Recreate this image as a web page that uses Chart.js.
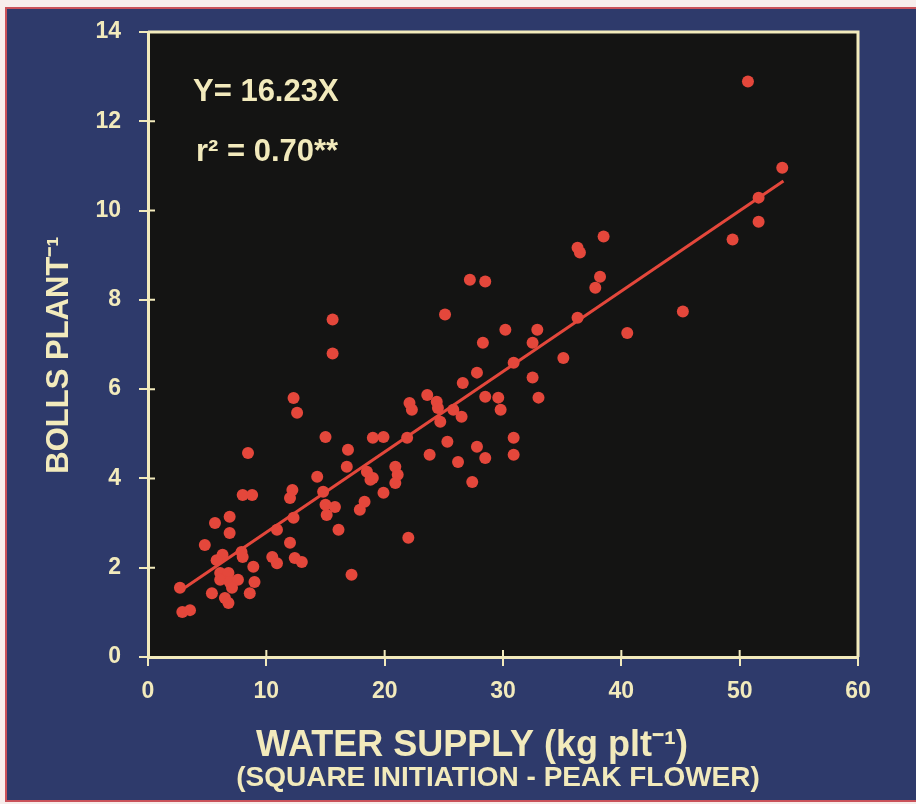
<!DOCTYPE html>
<html>
<head>
<meta charset="utf-8">
<script src="https://cdn.jsdelivr.net/npm/chart.js@4"></script>
<style>
    html, body { margin: 0; padding: 0; background: #f7eeec; }
    #frame {
        position: absolute; left: 5px; top: 7px; width: 911px; height: 791px;
        background: #2e3a6b; border-top: 2px solid #c9525a; border-left: 2px solid #c9525a;
        border-bottom: 2px solid #c9525a;
    }
    #chart { position: absolute; left: 0; top: 0; }
</style>
</head>
<body>
<div id="frame"></div>
<canvas id="chart" width="916" height="804"></canvas>
<script>
// values
const waterSupply = [
    12.3, 12.6, 8.45, 14.3, 8.0, 8.8, 12.2, 12.0, 6.9, 5.66, 6.9, 4.8, 10.9, 12.3, 12.0,
    6.3, 5.8, 7.9, 8.0, 10.5, 10.9, 12.4, 13.0, 8.9, 6.1, 6.8, 6.1, 6.9, 7.6, 9.0,
    2.7, 7.1, 5.4, 8.6, 6.5, 6.8, 2.9, 3.55,
    15.6, 25.1, 15.6, 26.6, 27.8, 23.6, 24.4, 24.5, 22.1, 22.3, 25.8, 26.5, 24.7,
    15.0, 19.0, 19.9, 21.9, 16.9, 25.3, 27.8, 23.8, 26.2, 16.8, 18.5, 18.8, 19.0,
    20.9, 21.1, 20.9, 27.4, 14.8, 19.9, 15.0, 15.8, 15.1, 18.3, 17.9, 16.1, 22.0, 17.2,
    38.5, 36.3, 36.5, 38.2, 37.8, 28.5, 27.2, 36.3, 40.5, 30.2, 32.9, 28.3, 32.5,
    35.1, 30.9, 32.5, 33.0, 28.5, 29.6, 29.8, 30.9, 28.5, 30.9,
    50.7, 53.6, 51.6, 51.6, 49.4, 45.2
];
const bollsPerPlant = [
    5.80, 5.47, 4.57, 4.04, 3.63, 3.63, 3.74, 3.56, 3.14, 3.00, 2.78, 2.51, 2.85, 3.12, 2.56,
    2.29, 2.17, 2.35, 2.24, 2.24, 2.10, 2.22, 2.13, 2.02, 1.88, 1.88, 1.73, 1.68, 1.73, 1.68,
    1.55, 1.55, 1.43, 1.43, 1.32, 1.21, 1.01, 1.05,
    7.56, 7.67, 6.80, 6.14, 6.37, 5.87, 5.72, 5.58, 5.69, 5.54, 5.54, 5.38, 5.27,
    4.93, 4.91, 4.93, 4.91, 4.64, 4.82, 4.71, 4.53, 4.37, 4.26, 4.15, 3.97, 4.01,
    4.26, 4.08, 3.90, 3.92, 3.70, 3.68, 3.41, 3.36, 3.18, 3.48, 3.30, 2.85, 2.67, 1.84,
    9.42, 9.17, 9.06, 8.52, 8.27, 8.41, 8.45, 7.60, 7.26, 7.33, 7.33, 7.04, 7.04,
    6.70, 6.59, 6.26, 5.81, 5.83, 5.81, 5.54, 4.91, 4.46, 4.53,
    12.89, 10.96, 10.29, 9.75, 9.35, 7.74
];
// fitted line end points
const fitX = [3.1, 53.7];
const fitY = [1.55, 10.66];

const xTicks = [0, 10, 20, 30, 40, 50, 60];
const yTicks = [0, 2, 4, 6, 8, 10, 12, 14];

const cream = '#f2eabc';
const red = '#e4473b';

const points = waterSupply.map((x, i) => ({ x: x, y: bollsPerPlant[i] }));
const fitLine = fitX.map((x, i) => ({ x: x, y: fitY[i] }));

const framePlugin = {
    id: 'frame',
    beforeDraw(chart) {
        const { ctx, chartArea: a } = chart;
        ctx.save();
        ctx.fillStyle = '#141413';
        ctx.fillRect(a.left, a.top, a.right - a.left, a.bottom - a.top);
        ctx.restore();
    },
    beforeDatasetsDraw(chart) {
        const { ctx, chartArea: a, scales } = chart;
        ctx.save();
        ctx.strokeStyle = cream;
        ctx.lineWidth = 3;
        ctx.beginPath();
        ctx.moveTo(a.left, a.top);
        ctx.lineTo(a.right, a.top);
        ctx.lineTo(a.right, a.bottom);
        ctx.stroke();
        // short inner tick marks
        ctx.lineWidth = 2;
        ctx.beginPath();
        xTicks.forEach(v => {
            const px = scales.x.getPixelForValue(v);
            ctx.moveTo(px, a.bottom);
            ctx.lineTo(px, a.bottom - 7);
        });
        yTicks.forEach(v => {
            const py = scales.y.getPixelForValue(v);
            ctx.moveTo(a.left, py);
            ctx.lineTo(a.left + 7, py);
        });
        ctx.stroke();
        ctx.restore();
    },
    afterDraw(chart) {
        const { ctx } = chart;
        ctx.save();
        ctx.fillStyle = cream;
        ctx.textBaseline = 'alphabetic';
        ctx.textAlign = 'left';
        ctx.font = 'bold 31px "Liberation Sans", Arial, sans-serif';
        ctx.fillText('Y= 16.23X', 193, 101);
        ctx.fillText('r² = 0.70**', 196, 161);

        ctx.textAlign = 'center';
        ctx.font = 'bold 36px "Liberation Sans", Arial, sans-serif';
        ctx.fillText('WATER SUPPLY (kg plt⁻¹)', 472, 756);
        ctx.font = 'bold 28px "Liberation Sans", Arial, sans-serif';
        ctx.fillText('(SQUARE INITIATION - PEAK FLOWER)', 498, 786);

        ctx.translate(68, 355);
        ctx.rotate(-Math.PI / 2);
        ctx.font = 'bold 31px "Liberation Sans", Arial, sans-serif';
        ctx.fillText('BOLLS PLANT⁻¹', 0, 0);
        ctx.restore();
    }
};

const tickFont = { family: '"Liberation Sans", Arial, sans-serif', size: 23, weight: 'bold' };

new Chart(document.getElementById('chart'), {
    type: 'scatter',
    data: {
        datasets: [{
            label: 'Bolls',
            data: points,
            backgroundColor: red,
            borderWidth: 0,
            pointRadius: 6
        }, {
            type: 'line',
            label: 'Fit',
            data: fitLine,
            borderColor: red,
            borderWidth: 3,
            pointRadius: 0,
            fill: false
        }]
    },
    options: {
        responsive: false,
        animation: false,
        layout: { padding: { top: 32, right: 58, left: 0, bottom: 0 } },
        plugins: {
            legend: { display: false },
            tooltip: { enabled: false }
        },
        scales: {
            x: {
                type: 'linear',
                min: 0, max: 60,
                afterFit: s => { s.height = 147; },
                afterBuildTicks: s => { s.ticks = xTicks.map(v => ({ value: v })); },
                ticks: { color: cream, font: tickFont, padding: 12 },
                grid: { drawOnChartArea: false, color: cream, lineWidth: 2, tickLength: 9 },
                border: { color: cream, width: 3 }
            },
            y: {
                type: 'linear',
                min: 0, max: 14,
                afterFit: s => { s.width = 148; },
                afterBuildTicks: s => { s.ticks = yTicks.map(v => ({ value: v })); },
                ticks: { color: cream, font: tickFont, padding: 18 },
                grid: { drawOnChartArea: false, color: cream, lineWidth: 2, tickLength: 9 },
                border: { color: cream, width: 3 }
            }
        }
    },
    plugins: [framePlugin]
});
</script>
</body>
</html>
